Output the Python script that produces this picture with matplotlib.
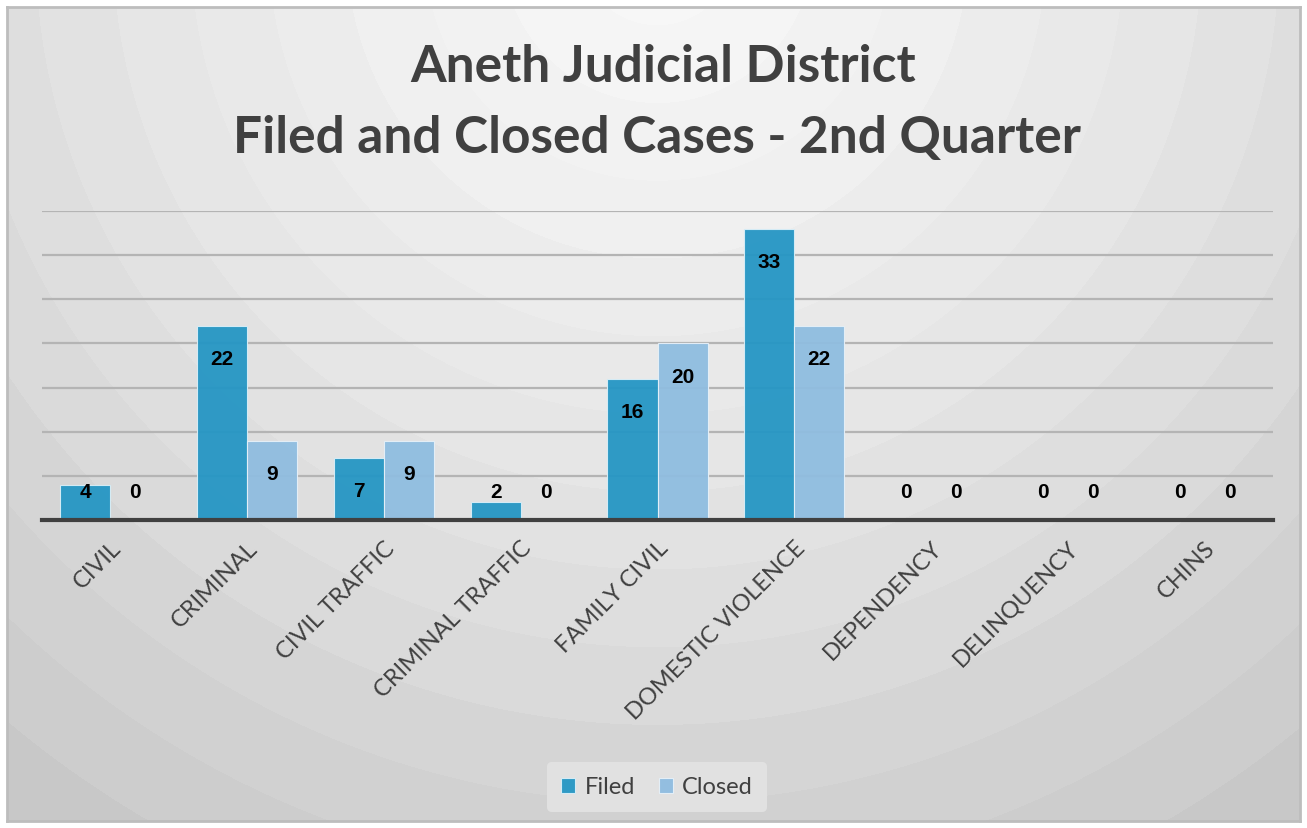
import numpy as np
import matplotlib
matplotlib.use('Agg')
import matplotlib.pyplot as plt

categories = ['CIVIL', 'CRIMINAL', 'CIVIL TRAFFIC', 'CRIMINAL TRAFFIC', 'FAMILY CIVIL',
              'DOMESTIC VIOLENCE', 'DEPENDENCY', 'DELINQUENCY', 'CHINS']
filed = [4, 22, 7, 2, 16, 33, 0, 0, 0]
closed = [0, 9, 9, 0, 20, 22, 0, 0, 0]

plt.rcParams['font.family'] = ['Lato', 'DejaVu Sans']

W, H = 1307, 829
fig = plt.figure(figsize=(W / 100, H / 100), dpi=100)
fig.patch.set_facecolor('white')

# background with radial gradient (stepped bands like the original)
bg = fig.add_axes([7 / W, 1 - 822 / H, (1300 - 7) / W, (822 - 8) / H])
yy, xx = np.mgrid[0:814, 0:1293]
r = np.sqrt((xx - 650) ** 2 + ((yy + 60) * 1.0) ** 2)
r = r / r.max()
r = np.floor(r * 14) / 14
shade = 0.965 - 0.2 * r ** 1.3
bg.imshow(shade, cmap='gray', vmin=0, vmax=1, aspect='auto', interpolation='bilinear')
bg.set_xticks([])
bg.set_yticks([])
for s in bg.spines.values():
    s.set_color('#bdbdbd')
    s.set_linewidth(2)

ax = fig.add_axes([42 / W, 1 - 521 / H, (1273 - 42) / W, (521 - 212) / H])
ax.patch.set_alpha(0)

x = np.arange(len(categories))
bw = 0.366
fc = '#2596c4'
cc = '#8fbde0'
ax.bar(x - bw / 2, filed, bw, color=fc, edgecolor='#d9eef7', linewidth=0.8, alpha=0.95, zorder=3)
ax.bar(x + bw / 2, closed, bw, color=cc, edgecolor='#e6f0f8', linewidth=0.8, alpha=0.95, zorder=3)

ax.set_xlim(-0.5, len(categories) - 0.5)
ax.set_ylim(0, 35)
ax.set_yticks(np.arange(5, 36, 5))
ax.yaxis.grid(True, color='#b4b4b4', linewidth=1.6, zorder=1)
ax.tick_params(axis='y', left=False, labelleft=False)
for s in ['top', 'right', 'left']:
    ax.spines[s].set_visible(False)
ax.spines['bottom'].set_color('#404040')
ax.spines['bottom'].set_linewidth(3)
ax.spines['bottom'].set_zorder(5)

ax.set_xticks(x)
ax.set_xticklabels(categories, rotation=45, ha='right', rotation_mode='anchor',
                   fontsize=17, color='#404040')
ax.tick_params(axis='x', length=0, pad=12)

for i in range(len(categories)):
    for off, v in ((-bw / 2, filed[i]), (bw / 2, closed[i])):
        ax.text(x[i] + off, max(v - 3.7, 3.2), str(v), ha='center', va='center',
                fontsize=15, fontweight='bold', color='black', family='Liberation Sans', zorder=6)

fig.text(0.507, 1 - 68 / H, 'Aneth Judicial District', ha='center', va='center',
         fontsize=37, fontweight='bold', color='#404040')
fig.text(0.503, 1 - 138 / H, 'Filed and Closed Cases - 2nd Quarter', ha='center', va='center',
         fontsize=37, fontweight='bold', color='#404040')

leg = ax.legend(['Filed', 'Closed'], loc='center', bbox_to_anchor=(657 / W, 1 - 788 / H),
                bbox_transform=fig.transFigure, ncol=2, frameon=True, fontsize=17,
                handlelength=0.6, handleheight=0.6, handletextpad=0.4, columnspacing=1.0,
                borderpad=0.6)
leg.get_frame().set_facecolor('#e3e3e3')
leg.get_frame().set_edgecolor('none')
leg.get_frame().set_alpha(0.9)
for t in leg.get_texts():
    t.set_color('#404040')

fig.savefig('out.png', dpi=100)
